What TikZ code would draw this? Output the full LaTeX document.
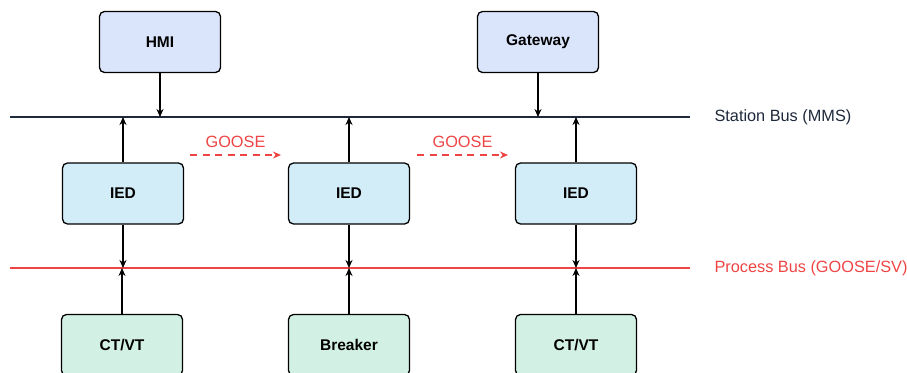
\documentclass[tikz,border=0pt]{standalone}
\usepackage{fontspec}
\setmainfont{Liberation Sans}
\usetikzlibrary{arrows.meta, positioning}
\definecolor{scTop}{HTML}{DAE5FB}
\definecolor{scIed}{HTML}{D2EDF8}
\definecolor{scDev}{HTML}{D2F0E3}
\definecolor{scRed}{HTML}{EF4444}
\definecolor{scNavy}{HTML}{1E293B}
\tikzset{
  box/.style      = {draw=black, line width=1.3pt, rounded corners=5pt,
                     minimum width=121pt, minimum height=61pt,
                     font=\bfseries\fontsize{15.5}{18}\selectfont},
  topbox/.style   = {box, fill=scTop},
  iedbox/.style   = {box, fill=scIed},
  devbox/.style   = {box, fill=scDev},
  conn/.style     = {-{Stealth[length=8pt, width=7pt]}, line width=1.3pt, black},
  stbus/.style    = {line width=1.8pt, scNavy},
  prbus/.style    = {line width=1.8pt, scRed},
  goose/.style    = {-{Stealth[length=8pt, width=7pt]}, line width=1.5pt, scRed,
                     dash pattern=on 7pt off 5.5pt},
  lbl/.style      = {font=\fontsize{16.3}{19}\selectfont},
}

\begin{document}
\begin{tikzpicture}[x=1pt, y=-1pt]
\useasboundingbox (0,0) rectangle (907,372);

% ---- buses ----------------------------------------------------------------
\coordinate (sbL) at (10,117);  \coordinate (sbR) at (690,117);
\coordinate (pbL) at (10,268);  \coordinate (pbR) at (690,268);
\draw[stbus] (sbL) -- (sbR);
\draw[prbus] (pbL) -- (pbR);
\node[lbl, anchor=west, scNavy] (sblbl) at (711,117) {Station Bus (MMS)};
\node[lbl, anchor=west, scRed]  (pblbl) at (711,268) {Process Bus (GOOSE/SV)};

% ---- station level ----------------------------------------------------------
\node[topbox] (hmi) at (160,42) {HMI};
\node[topbox] (gw)  at (538,42) {Gateway};
\draw[conn] (hmi) -- (hmi |- sbL);
\draw[conn] (gw)  -- (gw |- sbL);

% ---- bay level: IEDs ---------------------------------------------------------
\node[iedbox] (ied1) at (123,193.5) {IED};
\node[iedbox] (ied2) at (349,193.5) {IED};
\node[iedbox] (ied3) at (576,193.5) {IED};
\foreach \n in {ied1, ied2, ied3} {
  \draw[conn] (\n) -- (\n |- sbL);
  \draw[conn] (\n) -- (\n |- pbL);
}

% GOOSE peer messages
\coordinate (g1s) at (190,155); \coordinate (g1e) at (281,155);
\coordinate (g2s) at (417,155); \coordinate (g2e) at (508,155);
\draw[goose] (g1s) -- (g1e) node[midway, above=3pt, lbl, scRed] (g1lbl) {GOOSE};
\draw[goose] (g2s) -- (g2e) node[midway, above=3pt, lbl, scRed] (g2lbl) {GOOSE};

% ---- process level -----------------------------------------------------------
\node[devbox] (ct1) at (122,345) {CT/VT};
\node[devbox] (brk) at (349,345) {Breaker};
\node[devbox] (ct3) at (576,345) {CT/VT};
\foreach \n in {ct1, brk, ct3}
  \draw[conn] (\n) -- (\n |- pbL);

\end{tikzpicture}
\end{document}
